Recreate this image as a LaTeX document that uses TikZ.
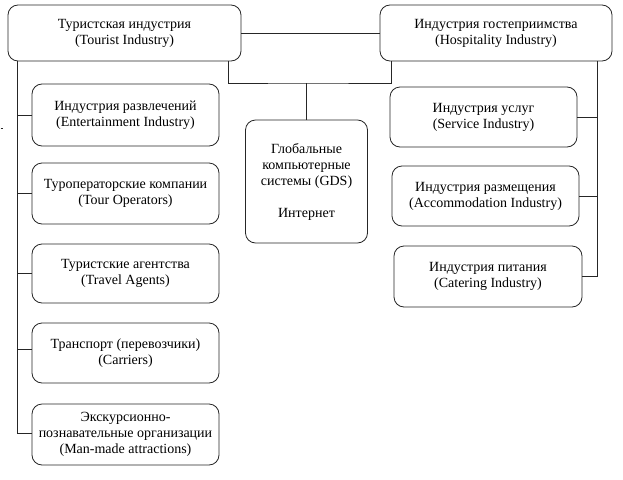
\documentclass[tikz,border=0pt]{standalone}
\usepackage{fontspec}
\setmainfont{Liberation Serif}
\begin{document}
\begin{tikzpicture}[x=1pt,y=-1pt,
  box/.style={draw=black!85,line width=0.8pt,rounded corners=10pt,inner sep=0pt,align=center,
    font=\fontsize{14}{16}\selectfont,text=black},
  link/.style={draw=black!85,line width=0.8pt}]
\useasboundingbox (0,0) rectangle (623,479);
\node[box,minimum width=233pt,minimum height=56pt] (tour) at (124.5,33) {Туристская индустрия\\ (Tourist Industry)};
\node[box,minimum width=232pt,minimum height=56pt] (hosp) at (496,33) {Индустрия гостеприимства\\(Hospitality Industry)};
\node[box,minimum width=122pt,minimum height=123pt] (gds) at (306.5,181.5) {Глобальные\\компьютерные\\системы (GDS)\\[16pt]Интернет};
\node[box,minimum width=187pt,minimum height=62pt] (ent) at (125.5,115) {Индустрия развлечений\\(Entertainment Industry)};
\node[box,minimum width=187pt,minimum height=61pt] (top) at (125.5,193.5) {Туроператорские компании\\(Tour Operators)};
\node[box,minimum width=187pt,minimum height=59pt] (agt) at (125.5,273.5) {Туристские агентства\\(Travel Agents)};
\node[box,minimum width=187pt,minimum height=60pt] (car) at (125.5,353) {Транспорт (перевозчики)\\(Carriers)};
\node[box,minimum width=187pt,minimum height=61pt] (attr) at (125.5,434.5) {Экскурсионно-\\познавательные организации\\(Man-made attractions)};
\node[box,minimum width=187pt,minimum height=60pt] (serv) at (483.5,117) {Индустрия услуг\\(Service Industry)};
\node[box,minimum width=187pt,minimum height=60pt] (acc) at (485.5,196) {Индустрия размещения\\(Accommodation Industry)};
\node[box,minimum width=188pt,minimum height=61pt] (cat) at (488,276.5) {Индустрия питания\\(Catering Industry)};
\coordinate (lx) at (17,0);
\coordinate (mx) at (228,0);
\coordinate (hx) at (391,0);
\coordinate (rx) at (597,0);
\coordinate (mid) at (306.5,83);
\coordinate (d1) at (0.5,128);
\coordinate (d2) at (2.5,128);
\draw[link] (tour.east) -- (hosp.west);
\draw[link] (mx |- tour.south) |- (mid) -| (hx |- hosp.south);
\draw[link] (mid) -- (gds.north);
\draw[link] (lx |- tour.south) |- ([yshift=1pt]attr.west);
\draw[link] (lx |- ent.west) -- (ent.west);
\draw[link] (lx |- top.west) -- (top.west);
\draw[link] (lx |- agt.west) -- (agt.west);
\draw[link] ([yshift=4pt]lx |- car.west) -- ([yshift=4pt]car.west);
\draw[link] (rx |- hosp.south) |- (cat.east);
\draw[link] (serv.east) -- (rx |- serv.east);
\draw[link] (acc.east) -- (rx |- acc.east);
\draw[link,line width=0.5pt] (d1) -- (d2);
\end{tikzpicture}
\end{document}
